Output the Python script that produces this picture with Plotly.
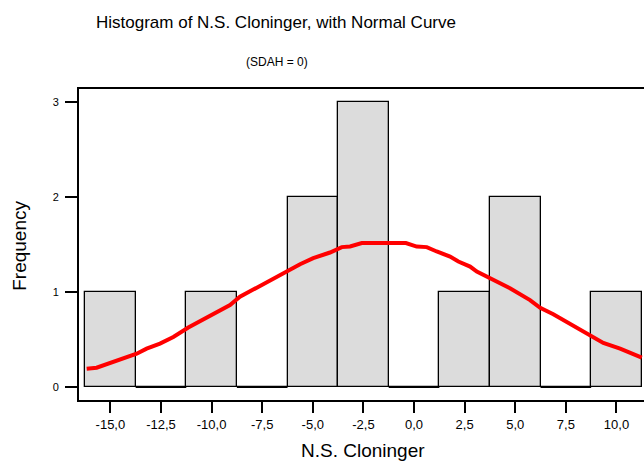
import plotly.graph_objects as go

# Histogram bins (centers) and counts
bin_centers = [-15.0, -12.5, -10.0, -7.5, -5.0, -2.5, 0.0, 2.5, 5.0, 7.5, 10.0]
counts = [1, 0, 1, 0, 2, 3, 0, 1, 2, 0, 1]
bin_width = 2.5

# Normal curve points
curve_x = [-16.17, -15.68, -13.70, -13.21, -12.55, -11.89, -11.15, -10.24, -9.50, -9.09,
           -8.60, -7.61, -6.95, -6.21, -5.63, -4.98, -4.15, -3.57, -3.16, -2.58,
           -0.40, 0.13, 0.63, 1.12, 1.78, 2.19, 2.77, 3.10, 3.75, 4.25,
           4.74, 5.73, 6.23, 6.88, 7.54, 8.04, 8.70, 9.35, 10.18, 11.25]
curve_y = [0.195, 0.205, 0.353, 0.406, 0.459, 0.529, 0.629, 0.734, 0.819, 0.865,
           0.952, 1.066, 1.147, 1.235, 1.295, 1.359, 1.418, 1.475, 1.481, 1.517,
           1.517, 1.481, 1.475, 1.429, 1.376, 1.323, 1.270, 1.217, 1.147, 1.087,
           1.041, 0.917, 0.836, 0.769, 0.688, 0.629, 0.537, 0.466, 0.406, 0.311]

x_tickvals = [-15.0, -12.5, -10.0, -7.5, -5.0, -2.5, 0.0, 2.5, 5.0, 7.5, 10.0]
x_ticktext = ["-15,0", "-12,5", "-10,0", "-7,5", "-5,0", "-2,5", "0,0", "2,5", "5,0", "7,5", "10,0"]
y_tickvals = [0, 1, 2, 3]

FONT = "Liberation Sans, Arial, sans-serif"

fig = go.Figure()

fig.add_trace(go.Bar(
    x=bin_centers, y=counts, width=[bin_width] * len(bin_centers),
    marker=dict(color="#dcdcdc", line=dict(color="black", width=1.3)),
    showlegend=False, hoverinfo="skip",
))

# Empty bins drawn as a baseline segment
zx, zy = [], []
for c, n in zip(bin_centers, counts):
    if n == 0:
        zx += [c - bin_width / 2, c + bin_width / 2, None]
        zy += [0, 0, None]
fig.add_trace(go.Scatter(x=zx, y=zy, mode="lines",
                         line=dict(color="black", width=1.5),
                         showlegend=False, hoverinfo="skip"))

fig.add_trace(go.Scatter(x=curve_x, y=curve_y, mode="lines",
                         line=dict(color="#ff0000", width=4),
                         showlegend=False, hoverinfo="skip"))

fig.update_layout(
    width=644, height=463,
    margin=dict(l=79, r=0, t=89, b=63),
    paper_bgcolor="white", plot_bgcolor="white",
    font=dict(family=FONT, color="black"),
    bargap=0,
    xaxis=dict(
        range=[-16.55, 11.36], tickmode="array", tickvals=x_tickvals, ticktext=x_ticktext,
        ticks="outside", ticklen=11, tickwidth=2, tickcolor="black",
        showline=True, linecolor="black", linewidth=2, mirror=True,
        showgrid=False, zeroline=False, tickfont=dict(size=13, family=FONT),
    ),
    yaxis=dict(
        range=[-0.135, 3.14], tickmode="array", tickvals=y_tickvals,
        ticks="outside", ticklen=12, tickwidth=2, tickcolor="black",
        showline=True, linecolor="black", linewidth=2,
        showgrid=False, zeroline=False, tickfont=dict(size=11, family=FONT),
        ticklabelstandoff=4,
    ),
    annotations=[
        dict(text="Histogram of N.S. Cloninger, with Normal Curve", xref="paper", yref="paper",
             x=(276 - 79) / 565, y=(400 - 22.7) / 311, xanchor="center", yanchor="middle",
             showarrow=False, font=dict(size=17, family=FONT)),
        dict(text="(SDAH = 0)", xref="paper", yref="paper",
             x=(276.5 - 79) / 565, y=(400 - 62) / 311, xanchor="center", yanchor="middle",
             showarrow=False, font=dict(size=12, family=FONT)),
        dict(text="N.S. Cloninger", xref="paper", yref="paper",
             x=(362.5 - 79) / 565, y=(400 - 450) / 311, xanchor="center", yanchor="middle",
             showarrow=False, font=dict(size=19, family=FONT)),
        dict(text="Frequency", xref="paper", yref="paper", textangle=-90,
             x=(20 - 79) / 565, y=(400 - 245.8) / 311, xanchor="center", yanchor="middle",
             showarrow=False, font=dict(size=19, family=FONT)),
    ],
)

fig.write_html("out.html")
